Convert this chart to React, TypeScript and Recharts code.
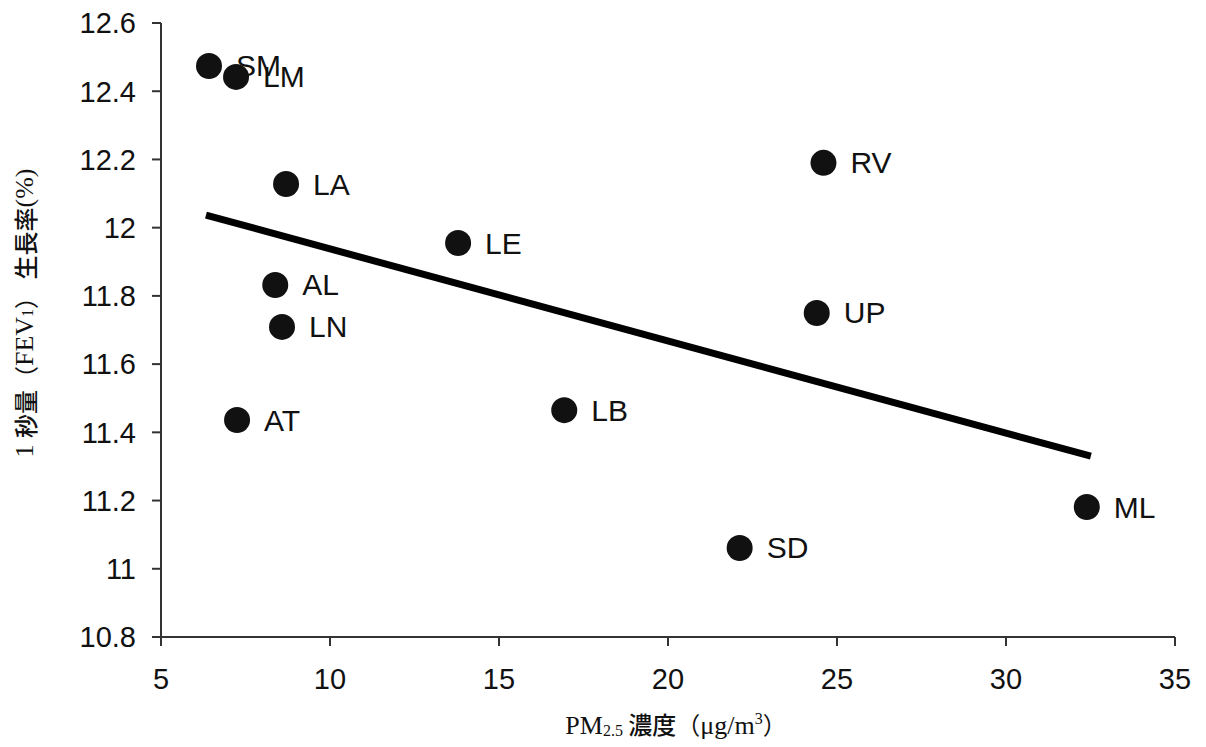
import React from "react";
import { ScatterChart, Scatter, XAxis, YAxis, ReferenceLine, Label } from "recharts";

const sites = ["SM", "LM", "LA", "LE", "AL", "LN", "AT", "LB", "RV", "UP", "SD", "ML"];
const pm25 = [6.42, 7.22, 8.7, 13.79, 8.38, 8.58, 7.25, 16.93, 24.6, 24.4, 22.12, 32.39];
const fevGrowth = [12.474, 12.442, 12.128, 11.955, 11.832, 11.709, 11.436, 11.465, 12.19, 11.75, 11.061, 11.181];

const xTicks = [5, 10, 15, 20, 25, 30, 35];
const yTicks = [10.8, 11, 11.2, 11.4, 11.6, 11.8, 12, 12.2, 12.4, 12.6];

const trendX = [6.33, 32.51];
const trendY = [12.037, 11.33];

const data = sites.map((name, i) => ({ name, x: pm25[i], y: fevGrowth[i] }));

const SANS = "'Liberation Sans', Arial, sans-serif";
const SERIF = "'Liberation Serif', 'Noto Sans CJK JP', serif";
const CJK = "'Noto Sans CJK JP', sans-serif";

const DotShape = (p: any) => (
  <g>
    <circle cx={p.cx} cy={p.cy} r={13} fill="#111" />
    <text
      x={p.cx + 27}
      y={p.cy}
      dominantBaseline="central"
      fontFamily={SANS}
      fontSize={30}
      fill="#111"
    >
      {p.payload.name}
    </text>
  </g>
);

const XTitle = (props: any) => {
  const vb = props.viewBox;
  const cx = vb.x + vb.width / 2 + 8;
  const y = vb.y + 97;
  return (
    <text x={cx} y={y} textAnchor="middle" fontFamily={SERIF} fontSize={26} fill="#111">
      <tspan>PM</tspan>
      <tspan fontSize={16} dy={2}>2.5</tspan>
      <tspan dy={-2} fontFamily={CJK} fontWeight={500} fontSize={24}> 濃度</tspan>
      <tspan fontFamily={CJK} fontSize={24}>（</tspan>
      <tspan>μg/m</tspan>
      <tspan fontSize={16} dy={-10}>3</tspan>
      <tspan dy={10} fontFamily={CJK} fontSize={24}>）</tspan>
    </text>
  );
};

const YTitle = (props: any) => {
  const x = 24;
  const y = 313;
  return (
    <text
      x={x}
      y={y}
      transform={`rotate(-90, ${x}, ${y})`}
      textAnchor="middle"
      dominantBaseline="central"
      fontFamily={SERIF}
      fontSize={26}
      fill="#111"
    >
      <tspan>1 </tspan>
      <tspan fontFamily={CJK} fontWeight={500} fontSize={24}>秒量</tspan>
      <tspan fontFamily={CJK} fontSize={24}>（</tspan>
      <tspan>FEV</tspan>
      <tspan fontSize={16} dy={3}>1</tspan>
      <tspan dy={-3} fontFamily={CJK} fontSize={24}>）</tspan>
      <tspan fontFamily={CJK} fontWeight={500} fontSize={24}> 生長率</tspan>
      <tspan>(%)</tspan>
    </text>
  );
};

export default function App() {
  return (
    <div style={{ position: "absolute", left: 0, top: 0, background: "#fff" }}>
      <ScatterChart width={1206} height={747} margin={{ top: 23, right: 31, left: 0, bottom: 0 }}>
        <XAxis
          type="number"
          dataKey="x"
          domain={[5, 35]}
          ticks={xTicks}
          height={110}
          stroke="#333"
          strokeWidth={2}
          tickSize={9}
          tickMargin={22}
          tick={{ fontFamily: SANS, fontSize: 29, fill: "#111" }}
          tickLine={{ stroke: "#333", strokeWidth: 2 }}
        >
          <Label content={XTitle} />
        </XAxis>
        <YAxis
          type="number"
          dataKey="y"
          domain={[10.8, 12.6]}
          ticks={yTicks}
          width={161}
          stroke="#333"
          strokeWidth={2}
          tickSize={9}
          tickMargin={16}
          tickFormatter={(v: number) => String(Math.round(v * 10) / 10)}
          tick={{ fontFamily: SANS, fontSize: 29, fill: "#111" }}
          tickLine={{ stroke: "#333", strokeWidth: 2 }}
        >
          <Label content={YTitle} />
        </YAxis>
        <ReferenceLine
          segment={[
            { x: trendX[0], y: trendY[0] },
            { x: trendX[1], y: trendY[1] },
          ]}
          stroke="#000"
          strokeWidth={7}
          ifOverflow="visible"
        />
        <Scatter data={data} shape={DotShape} isAnimationActive={false} />
      </ScatterChart>
    </div>
  );
}
